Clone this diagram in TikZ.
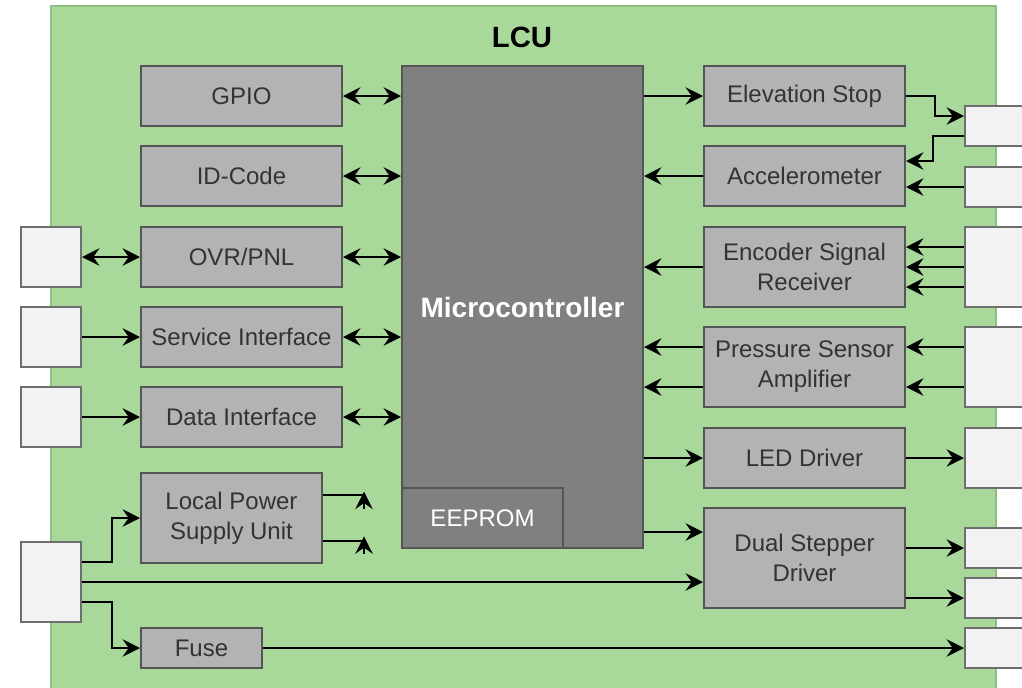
\documentclass[tikz,border=0pt]{standalone}
\usepackage{fontspec}
\setmainfont{Liberation Sans}
\usetikzlibrary{arrows.meta}
\definecolor{bggreen}{HTML}{A9D89B}
\definecolor{bgline}{HTML}{8DBF7E}
\definecolor{boxfill}{HTML}{B3B3B3}
\definecolor{boxline}{HTML}{555555}
\definecolor{mcufill}{HTML}{808080}
\definecolor{extfill}{HTML}{F2F2F2}
\definecolor{extline}{HTML}{6E6E6E}
\definecolor{txt}{HTML}{333333}
\tikzset{
  blk/.style={draw=boxline, fill=boxfill, line width=1.5pt, text=txt,
    font=\fontsize{18}{22.5}\selectfont, align=center, inner sep=0pt},
  mcubox/.style={draw=boxline, fill=mcufill, line width=1.5pt, text=white, inner sep=0pt},
  ext/.style={draw=extline, fill=extfill, line width=1.5pt, inner sep=0pt},
  wire/.style={line width=1.8pt},
  arr/.style={wire, -{Stealth[length=13pt,width=13pt,inset=4.5pt]}},
  darr/.style={wire, {Stealth[length=13pt,width=13pt,inset=4.5pt]}-{Stealth[length=13pt,width=13pt,inset=4.5pt]}},
}
\newcommand\mybox[7]{\node[#6, minimum width={(#4-#2)*0.75pt}, minimum height={(#5-#3)*0.75pt}] (#1) at ({(#2+#4)/2},{(#3+#5)/2}) {#7};}
\begin{document}
\begin{tikzpicture}[x=0.75pt,y=-0.75pt]
\clip (0,0) rectangle (1022,687);
\fill[white] (0,0) rectangle (1022,687);
\draw[fill=bggreen, draw=bgline, line width=1pt] (51,6) rectangle (996,700);
\node[font=\bfseries\fontsize{22}{26}\selectfont] (title) at (522,37) {LCU};

% microcontroller
\mybox{mcu}{402}{66}{643}{548}{mcubox}{}
\node[text=white, font=\bfseries\fontsize{21}{25}\selectfont] (mcutxt) at (mcu.center) {Microcontroller};
\mybox{eeprom}{402}{488}{563}{548}{mcubox, font=\fontsize{18}{22}\selectfont}{EEPROM}

% left blocks
\mybox{gpio}{141}{66}{342}{126}{blk}{GPIO}
\mybox{idc}{141}{146}{342}{206}{blk}{ID-Code}
\mybox{ovr}{141}{227}{342}{287}{blk}{OVR/PNL}
\mybox{svc}{141}{307}{342}{367}{blk}{Service Interface}
\mybox{dat}{141}{387}{342}{447}{blk}{Data Interface}
\mybox{lpsu}{141}{473}{322}{563}{blk}{Local Power\\Supply Unit}
\mybox{fuse}{141}{628}{262}{668}{blk}{Fuse}

% right blocks
\mybox{elev}{704}{66}{905}{126}{blk}{Elevation Stop}
\mybox{acc}{704}{146}{905}{206}{blk}{Accelerometer}
\mybox{enc}{704}{227}{905}{307}{blk}{Encoder Signal\\Receiver}
\mybox{psa}{704}{327}{905}{407}{blk}{Pressure Sensor\\Amplifier}
\mybox{led}{704}{428}{905}{488}{blk}{LED Driver}
\mybox{dsd}{704}{508}{905}{608}{blk}{Dual Stepper\\Driver}

% external boxes left
\mybox{xovr}{21}{227}{81}{287}{ext}{}
\mybox{xsvc}{21}{307}{81}{367}{ext}{}
\mybox{xdat}{21}{387}{81}{447}{ext}{}
\mybox{xpw}{21}{542}{81}{622}{ext}{}

% external boxes right
\mybox{xa}{965}{106}{1045}{146}{ext}{}
\mybox{xb}{965}{167}{1045}{207}{ext}{}
\mybox{xc}{965}{227}{1045}{307}{ext}{}
\mybox{xd}{965}{327}{1045}{407}{ext}{}
\mybox{xe}{965}{428}{1045}{488}{ext}{}
\mybox{xf}{965}{528}{1045}{568}{ext}{}
\mybox{xg}{965}{578}{1045}{618}{ext}{}
\mybox{xh}{965}{628}{1045}{668}{ext}{}

% left connectors
\draw[darr] (gpio.east) -- (gpio.east -| mcu.west);
\draw[darr] (idc.east) -- (idc.east -| mcu.west);
\draw[darr] (ovr.east) -- (ovr.east -| mcu.west);
\draw[darr] (svc.east) -- (svc.east -| mcu.west);
\draw[darr] (dat.east) -- (dat.east -| mcu.west);
\draw[darr] (xovr.east) -- (ovr.west);
\draw[arr] (xsvc.east) -- (svc.west);
\draw[arr] (xdat.east) -- (dat.west);
\draw[arr] ([yshift=15pt]xpw.east) -- ++(30,0) |- (lpsu.west);
\draw[arr] (xpw.east) -- (xpw.east -| dsd.west);
\draw[arr] ([yshift=-15pt]xpw.east) -- ++(30,0) |- (fuse.west);
\draw[arr] (fuse.east) -- (fuse.east -| xh.west);

% local power outputs
\draw[wire] ([yshift=17.25pt]lpsu.east) -- ++(41,0) coordinate (pa);
\draw[wire] ([yshift=-17.25pt]lpsu.east) -- ++(41,0) coordinate (pb);
\draw[arr] ([yshift=-10.5pt]pa) -- ([yshift=2.5pt]pa);
\draw[arr] ([yshift=-9.5pt]pb) -- ([yshift=3.5pt]pb);

% right connectors
\draw[arr] (elev.west -| mcu.east) -- (elev.west);
\draw[arr] (acc.west) -- (acc.west -| mcu.east);
\draw[arr] (enc.west) -- (enc.west -| mcu.east);
\draw[arr] ([yshift=15pt]psa.west) -- ([yshift=15pt]psa.west -| mcu.east);
\draw[arr] ([yshift=-15pt]psa.west) -- ([yshift=-15pt]psa.west -| mcu.east);
\draw[arr] (led.west -| mcu.east) -- (led.west);
\draw[arr] ([yshift=19.5pt]dsd.west -| mcu.east) -- ([yshift=19.5pt]dsd.west);

\draw[arr] (elev.east) -- ++(29,0) |- ([yshift=7.5pt]xa.west);
\draw[arr] ([yshift=-7.5pt]xa.west) -- ++(-31,0) |- ([yshift=11.25pt]acc.east);
\draw[arr] (xb.west) -- (xb.west -| acc.east);
\draw[arr] ([yshift=15pt]xc.west) -- ([yshift=15pt]enc.east);
\draw[arr] (xc.west) -- (enc.east);
\draw[arr] ([yshift=-15pt]xc.west) -- ([yshift=-15pt]enc.east);
\draw[arr] ([yshift=15pt]xd.west) -- ([yshift=15pt]psa.east);
\draw[arr] ([yshift=-15pt]xd.west) -- ([yshift=-15pt]psa.east);
\draw[arr] (led.east) -- (xe.west);
\draw[arr] (xf.west -| dsd.east) -- (xf.west);
\draw[arr] (xg.west -| dsd.east) -- (xg.west);
\end{tikzpicture}
\end{document}
